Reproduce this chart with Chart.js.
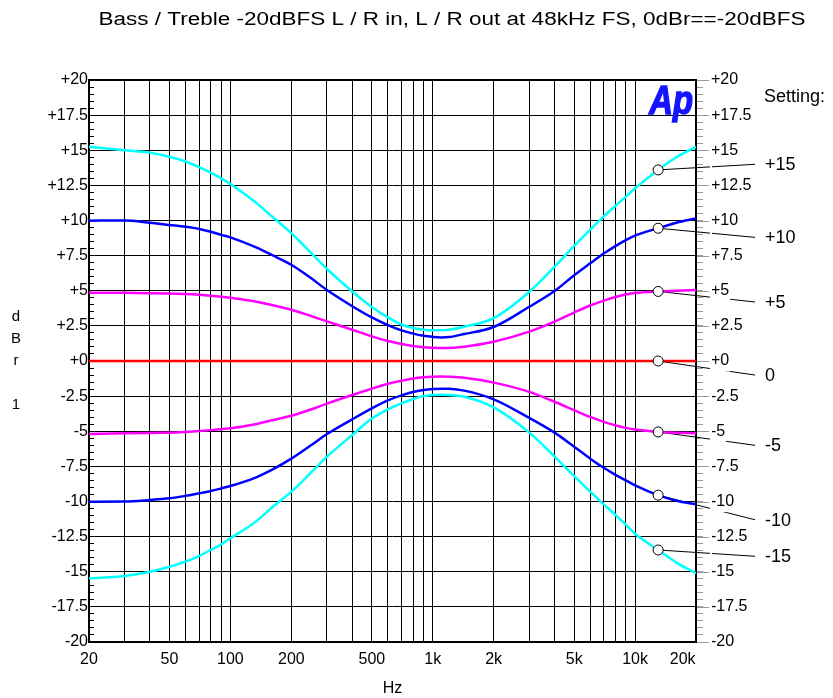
<!DOCTYPE html>
<html>
<head>
<meta charset="utf-8">
<title>Bass / Treble response</title>
<script src="https://cdn.jsdelivr.net/npm/chart.js@4.4.1/dist/chart.umd.min.js"></script>
<style>
  html, body { margin: 0; padding: 0; background: #fff; }
  #wrap { width: 833px; height: 698px; position: relative; }
</style>
</head>
<body>
<div id="wrap"><canvas id="eqChart"></canvas></div>
<script>
// Frequency points (Hz) and response in dBr for each tone setting
const freqs = [20, 30, 40, 50, 60, 70, 80, 90, 100, 133, 160, 200, 250, 300, 400, 500, 600, 700, 800, 900,
  1000, 1100, 1200, 1430, 2000, 3000, 4000, 5000, 6000, 7000, 8000, 9000, 10000, 13000, 16000, 20000]

const boost15 = [15.25, 15.0, 14.83, 14.54, 14.2, 13.8, 13.4, 13.0, 12.6, 11.3, 10.3, 9.1, 7.7, 6.55, 4.95, 3.85, 3.1, 2.6, 2.35, 2.22,
  2.18, 2.18, 2.22, 2.44, 3.05, 4.93, 6.71, 8.2, 9.35, 10.3, 11.05, 11.7, 12.3, 13.6, 14.5, 15.25]
const boost10 = [9.99, 10.0, 9.84, 9.68, 9.55, 9.4, 9.2, 8.98, 8.8, 8.1, 7.55, 6.85, 5.9, 5.05, 3.9, 3.1, 2.55, 2.18, 1.95, 1.8,
  1.72, 1.68, 1.7, 1.92, 2.42, 3.86, 4.98, 6.1, 6.95, 7.65, 8.18, 8.6, 8.92, 9.45, 9.84, 10.15]
const boost5 = [4.86, 4.85, 4.83, 4.8, 4.76, 4.71, 4.65, 4.58, 4.5, 4.24, 3.98, 3.65, 3.2, 2.82, 2.22, 1.75, 1.42, 1.22, 1.07, 0.98,
  0.94, 0.92, 0.93, 1.02, 1.37, 2.09, 2.8, 3.45, 3.95, 4.3, 4.56, 4.73, 4.84, 4.95, 5.0, 5.05]
const flat = [0, 0, 0, 0, 0, 0, 0, 0, 0, 0, 0, 0, 0, 0, 0, 0, 0, 0, 0, 0,
  0, 0, 0, 0, 0, 0, 0, 0, 0, 0, 0, 0, 0, 0, 0, 0]
const cut5 = [-5.2, -5.15, -5.12, -5.1, -5.05, -4.99, -4.92, -4.85, -4.79, -4.5, -4.22, -3.9, -3.45, -3.03, -2.42, -1.97, -1.62, -1.4, -1.25, -1.16,
  -1.12, -1.1, -1.12, -1.2, -1.54, -2.2, -2.9, -3.5, -3.98, -4.33, -4.58, -4.76, -4.88, -5.05, -5.1, -5.15]
const cut10 = [-10.01, -10.0, -9.89, -9.77, -9.6, -9.42, -9.25, -9.07, -8.9, -8.3, -7.75, -6.95, -6.0, -5.2, -4.15, -3.37, -2.8, -2.45, -2.2, -2.07,
  -2.0, -1.97, -1.98, -2.11, -2.73, -4.05, -5.1, -6.1, -6.95, -7.6, -8.1, -8.5, -8.85, -9.55, -9.95, -10.2]
const cut15 = [-15.47, -15.3, -15.0, -14.64, -14.28, -13.88, -13.45, -13.05, -12.62, -11.45, -10.45, -9.3, -7.95, -6.81, -5.27, -4.1, -3.44, -3.01, -2.7, -2.5,
  -2.42, -2.4, -2.42, -2.54, -3.3, -5.1, -6.8, -8.2, -9.3, -10.2, -10.95, -11.65, -12.3, -13.45, -14.35, -15.1]

const settingNames = ['+15', '+10', '+5', '0', '-5', '-10', '-15']
// dB level where each setting's name is written on the right
const settingLabelLevels = [14.0, 8.8, 4.2, -1.0, -6.0, -11.3, -13.9]
const markerFreq = 13000

// vertical grid lines and their labels
const xGrid = [20, 30, 40, 50, 60, 70, 80, 90, 100, 200, 300, 400, 500, 600, 700, 800, 900,
  1000, 2000, 3000, 4000, 5000, 6000, 7000, 8000, 9000, 10000, 20000]
const xLabelValues = [20, 50, 100, 200, 500, 1000, 2000, 5000, 10000, 20000]
const xLabelTexts = ['20', '50', '100', '200', '500', '1k', '2k', '5k', '10k', '20k\u2007\u2007\u2007']

const FONT = "'Liberation Sans', Arial, sans-serif"
Chart.defaults.font.family = FONT
Chart.defaults.color = '#000'

const curves = [
  { name: '+15', data: boost15, color: '#00ffff' },
  { name: '+10', data: boost10, color: '#0000ff' },
  { name: '+5', data: boost5, color: '#ff00ff' },
  { name: '0', data: flat, color: '#ff0000' },
  { name: '-5', data: cut5, color: '#ff00ff' },
  { name: '-10', data: cut10, color: '#0000ff' },
  { name: '-15', data: cut15, color: '#00ffff' }
]

const markerIdx = freqs.indexOf(markerFreq)

// y ticks every 0.5 dB, gridline + label every 2.5 dB
const yTicks = []
for (let v = -20; v <= 20; v += 0.5) yTicks.push({ value: v })
const isMajor = v => Math.abs(v / 2.5 - Math.round(v / 2.5)) < 1e-6
function fmtDb (v) {
  if (!isMajor(v)) return ''
  return v >= 0 ? '+' + v : String(v)
}

const decorPlugin = {
  id: 'decor',
  beforeDraw (chart) {
    // leader lines from the markers to the setting names
    const { ctx, chartArea, scales } = chart
    ctx.save()
    ctx.strokeStyle = '#000'
    ctx.lineWidth = 1
    curves.forEach((c, i) => {
      const x0 = scales.x.getPixelForValue(markerFreq)
      const y0 = scales.y.getPixelForValue(c.data[markerIdx])
      const y1 = scales.y.getPixelForValue(settingLabelLevels[i])
      ctx.beginPath()
      ctx.moveTo(x0, y0)
      ctx.lineTo(chartArea.right + 59, y1)
      ctx.stroke()
    })
    ctx.restore()
  },
  beforeDatasetsDraw (chart) {
    const { ctx, chartArea, scales } = chart
    ctx.save()
    // longer grey ticks on the right scale at the labelled values
    ctx.strokeStyle = '#999'
    ctx.lineWidth = 1
    yTicks.forEach(t => {
      if (!isMajor(t.value)) return
      const y = Math.round(scales.y.getPixelForValue(t.value)) + 0.5
      ctx.beginPath()
      ctx.moveTo(chartArea.right, y)
      ctx.lineTo(chartArea.right + 13, y)
      ctx.stroke()
    })
    // plot frame
    ctx.strokeStyle = '#000'
    ctx.lineWidth = 2
    ctx.strokeRect(chartArea.left, chartArea.top, chartArea.right - chartArea.left, chartArea.bottom - chartArea.top)
    ctx.restore()
  },
  afterDraw (chart) {
    const { ctx, chartArea } = chart
    ctx.save()
    ctx.fillStyle = '#000'
    ctx.textBaseline = 'middle'

    // title, slightly stretched
    ctx.save()
    ctx.font = '18px ' + FONT
    ctx.textAlign = 'center'
    ctx.translate(452, 20)
    ctx.scale(1.25, 1)
    ctx.fillText('Bass / Treble -20dBFS L / R in, L / R out at 48kHz FS, 0dBr==-20dBFS', 0, 0)
    ctx.restore()

    // setting names
    ctx.font = '18px ' + FONT
    ctx.textAlign = 'left'
    ctx.fillText('Setting:', chartArea.right + 68, 97)
    settingNames.forEach((name, i) => {
      const y = chart.scales.y.getPixelForValue(settingLabelLevels[i])
      ctx.fillText(name, chartArea.right + 69, y + 1)
    })

    // stacked y axis unit
    ctx.font = '15px ' + FONT
    ctx.textAlign = 'center'
    const mid = (chartArea.top + chartArea.bottom) / 2
    ;['d', 'B', 'r', '', '1'].forEach((ch, i) => {
      ctx.fillText(ch, 16, mid + (i - 2) * 22)
    })

    // Ap logo
    ctx.save()
    ctx.fillStyle = '#1414ff'
    ctx.strokeStyle = '#1414ff'
    ctx.lineWidth = 1.5
    ctx.font = 'italic bold 40px ' + FONT
    ctx.textAlign = 'right'
    ctx.textBaseline = 'alphabetic'
    ctx.translate(chartArea.right - 3, 114)
    ctx.scale(0.82, 1)
    ctx.fillText('Ap', 0, 0)
    ctx.strokeText('Ap', 0, 0)
    ctx.restore()

    ctx.restore()
  }
}

const datasets = [{
  label: 'markers',
  data: curves.map(c => ({ x: markerFreq, y: c.data[markerIdx] })),
  showLine: false,
  pointRadius: 5,
  pointBorderWidth: 1,
  pointBorderColor: '#000',
  pointBackgroundColor: '#fff',
  order: 0
}].concat(curves.map(c => ({
  label: c.name,
  data: freqs.map((f, i) => ({ x: f, y: c.data[i] })),
  borderColor: c.color,
  borderWidth: 2.5,
  pointRadius: 0,
  cubicInterpolationMode: 'monotone',
  fill: false,
  order: 1
})))

new Chart(document.getElementById('eqChart'), {
  type: 'line',
  data: { datasets },
  plugins: [decorPlugin],
  options: {
    responsive: true,
    maintainAspectRatio: false,
    animation: false,
    events: [],
    layout: { padding: { top: 80, left: 0, right: 0, bottom: 0 } },
    plugins: { legend: { display: false }, tooltip: { enabled: false } },
    scales: {
      x: {
        type: 'logarithmic',
        min: 20,
        max: 20000,
        afterBuildTicks: s => { s.ticks = xGrid.map(v => ({ value: v })) },
        afterFit: s => { s.height = 56 },
        ticks: {
          autoSkip: false,
          maxRotation: 0,
          padding: 8,
          font: { size: 16 },
          callback: v => {
            const k = xLabelValues.indexOf(v)
            return k >= 0 ? xLabelTexts[k] : ''
          }
        },
        grid: { color: '#000', lineWidth: 1, drawTicks: false },
        border: { display: false },
        title: { display: true, text: 'Hz', font: { size: 16 }, padding: { top: 0, bottom: 0 } }
      },
      y: {
        position: 'left',
        min: -20,
        max: 20,
        afterBuildTicks: s => { s.ticks = yTicks.map(t => ({ value: t.value })) },
        afterFit: s => { s.width = 89 },
        ticks: { autoSkip: false, padding: 6, font: { size: 16 }, callback: fmtDb },
        grid: {
          color: c => isMajor(c.tick.value) ? '#000' : 'rgba(0,0,0,0)',
          tickColor: '#000',
          tickLength: -5,
          lineWidth: 1
        },
        border: { display: false }
      },
      y2: {
        position: 'right',
        min: -20,
        max: 20,
        afterBuildTicks: s => { s.ticks = yTicks.map(t => ({ value: t.value })) },
        afterFit: s => { s.width = 137 },
        ticks: {
          autoSkip: false,
          padding: 8,
          font: { size: 16 },
          callback: fmtDb,
          showLabelBackdrop: true,
          backdropColor: '#fff',
          backdropPadding: 1
        },
        grid: { drawOnChartArea: false, tickColor: '#999', tickLength: 7 },
        border: { display: false }
      }
    }
  }
})
</script>
</body>
</html>
